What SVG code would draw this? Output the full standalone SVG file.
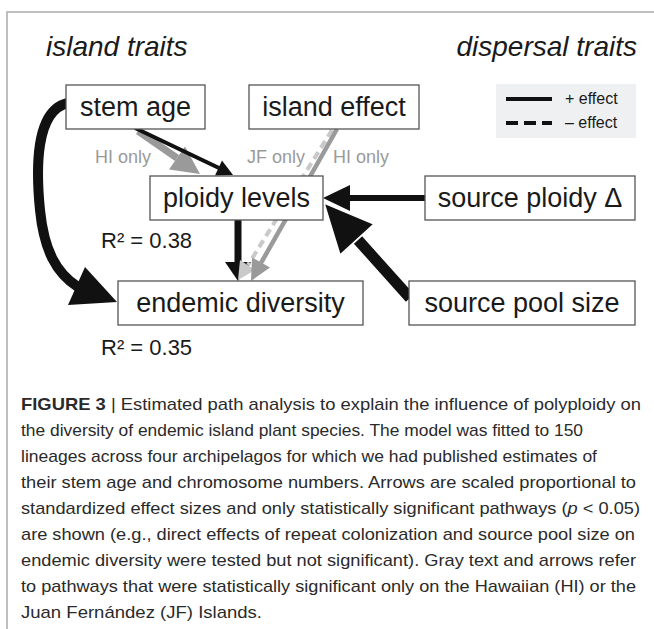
<svg xmlns="http://www.w3.org/2000/svg" width="654" height="629" viewBox="0 0 654 629">
<style>
.frame{fill:none;stroke:#aaaaaa;stroke-width:1.5}
.box{fill:#ffffff;stroke:#555555;stroke-width:1.3}
.lbl{font-family:"Liberation Sans",Arial,sans-serif;font-size:27px;fill:#1a1a1a;text-anchor:middle}
.hdr{font-family:"Liberation Sans",Arial,sans-serif;font-size:28px;font-style:italic;fill:#1a1a1a}
.gl{font-family:"Liberation Sans",Arial,sans-serif;font-size:18px;fill:#9a9a9a}
.r2{font-family:"Liberation Sans",Arial,sans-serif;font-size:22px;fill:#1a1a1a}
.leg{font-family:"Liberation Sans",Arial,sans-serif;font-size:16px;fill:#1a1a1a}
.cap{font-family:"Liberation Sans",Arial,sans-serif;font-size:17px;fill:#2a2a2a}
.blk{stroke:#111111;fill:none}
.blkh{fill:#111111}
.gry{stroke:#9a9a9a;fill:none}
.gryh{fill:#9a9a9a}
.lgt{stroke:#c9c9c9;fill:none;stroke-dasharray:8 5}
.lgth{fill:#c9c9c9}
</style>
<rect x="0" y="0" width="654" height="629" fill="#ffffff"/>
<path class="frame" d="M654,12 H7 V629"/>
<text class="hdr" x="46" y="56">island traits</text>
<text class="hdr" x="637" y="56" text-anchor="end">dispersal traits</text>
<g id="legend">
<rect x="496" y="84" width="140" height="54" fill="#eef0f1"/>
<line x1="506" y1="99" x2="552" y2="99" stroke="#111" stroke-width="4"/>
<line x1="506" y1="123" x2="552" y2="123" stroke="#111" stroke-width="4" stroke-dasharray="12 6"/>
<text class="leg" x="565" y="104">+ effect</text>
<text class="leg" x="565" y="128">– effect</text>
</g>
<g id="connectors">
<path class="gry" d="M138,131 L177,158" stroke-width="7"/>
<polygon class="gryh" points="200,174 169,169.5 185,146.5"/>
<path class="blk" d="M135,128 L219,168" stroke-width="4"/>
<polygon class="blkh" points="233,175 215,175.5 222,160.5"/>
<path class="blk" d="M68,103 C35,110 36,170 40,210 C44,250 56,273 78,287" stroke-width="10"/>
<polygon class="blkh" points="117,302 85,267 68,305"/>
<path class="blk" d="M238,220 L238,264" stroke-width="7"/>
<polygon class="blkh" points="238,281 225,262 251,262"/>
<path class="lgt" d="M332,130 L248,265" stroke-width="4"/>
<polygon class="lgth" points="238,280 240,260 255,270"/>
<path class="gry" d="M337,129 L261,263" stroke-width="4.5"/>
<polygon class="gryh" points="251,281 252,257.5 270,267.5"/>
<path class="blk" d="M425,198 L348,198" stroke-width="6"/>
<polygon class="blkh" points="323,198 350,185 350,211"/>
<path class="blk" d="M410,298 L358,240" stroke-width="11"/>
<polygon class="blkh" points="324,203 374,224 340,255" stroke="#ffffff" stroke-width="1.5"/>
</g>
<g id="stem-age"><rect class="box" x="66" y="85" width="139" height="44"/><text class="lbl" x="135.5" y="116">stem age</text></g>
<g id="island-effect"><rect class="box" x="249" y="85" width="170" height="44"/><text class="lbl" x="334" y="116">island effect</text></g>
<g id="ploidy-levels"><rect class="box" x="150" y="176" width="173" height="44"/><text class="lbl" x="236.5" y="207">ploidy levels</text></g>
<g id="source-ploidy"><rect class="box" x="425" y="176" width="210" height="44"/><text class="lbl" x="530" y="207">source ploidy Δ</text></g>
<g id="endemic-diversity"><rect class="box" x="118" y="281" width="245" height="44"/><text class="lbl" x="240.5" y="312">endemic diversity</text></g>
<g id="source-pool-size"><rect class="box" x="409" y="281" width="226" height="44"/><text class="lbl" x="522" y="312">source pool size</text></g>
<text class="gl" x="95" y="163">HI only</text>
<text class="gl" x="247" y="163">JF only</text>
<text class="gl" x="333" y="163">HI only</text>
<text class="r2" x="101" y="248">R² = 0.38</text>
<text class="r2" x="101" y="355">R² = 0.35</text>
<g id="caption">
<text class="cap" x="21" y="410" textLength="620" lengthAdjust="spacingAndGlyphs"><tspan font-weight="bold">FIGURE 3</tspan> | Estimated path analysis to explain the influence of polyploidy on</text>
<text class="cap" x="21" y="436" textLength="562" lengthAdjust="spacingAndGlyphs">the diversity of endemic island plant species. The model was fitted to 150</text>
<text class="cap" x="21" y="462" textLength="576" lengthAdjust="spacingAndGlyphs">lineages across four archipelagos for which we had published estimates of</text>
<text class="cap" x="21" y="488" textLength="615" lengthAdjust="spacingAndGlyphs">their stem age and chromosome numbers. Arrows are scaled proportional to</text>
<text class="cap" x="21" y="514" textLength="619" lengthAdjust="spacingAndGlyphs">standardized effect sizes and only statistically significant pathways (<tspan font-style="italic">p</tspan> &lt; 0.05)</text>
<text class="cap" x="21" y="540" textLength="614" lengthAdjust="spacingAndGlyphs">are shown (e.g., direct effects of repeat colonization and source pool size on</text>
<text class="cap" x="21" y="566" textLength="615" lengthAdjust="spacingAndGlyphs">endemic diversity were tested but not significant). Gray text and arrows refer</text>
<text class="cap" x="21" y="592" textLength="615" lengthAdjust="spacingAndGlyphs">to pathways that were statistically significant only on the Hawaiian (HI) or the</text>
<text class="cap" x="21" y="618" textLength="241" lengthAdjust="spacingAndGlyphs">Juan Fernández (JF) Islands.</text>
</g>
</svg>
